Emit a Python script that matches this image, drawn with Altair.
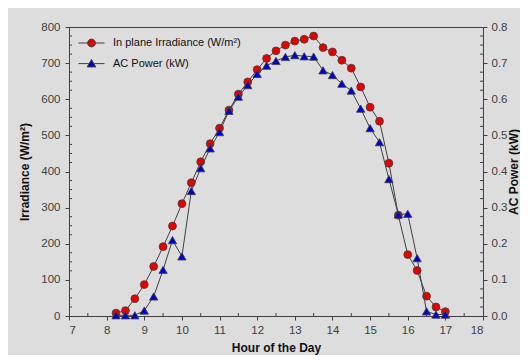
import altair as alt
import pandas as pd

# ---- data ----
hours = [8.25, 8.5, 8.75, 9.0, 9.25, 9.5, 9.75, 10.0, 10.25, 10.5, 10.75, 11.0,
         11.25, 11.5, 11.75, 12.0, 12.25, 12.5, 12.75, 13.0, 13.25, 13.5, 13.75, 14.0,
         14.25, 14.5, 14.75, 15.0, 15.25, 15.5, 15.75, 16.0, 16.25, 16.5, 16.75, 17.0]
irradiance = [8, 15, 48, 87, 137, 192, 249, 311, 369, 427, 477, 520,
              570, 614, 648, 682, 713, 734, 750, 761, 766, 775, 743, 731,
              708, 686, 634, 578, 539, 423, 279, 170, 126, 55, 25, 12]
ac_power = [0.002, 0.002, 0.002, 0.015, 0.054, 0.128, 0.210, 0.165, 0.346, 0.409, 0.464, 0.509,
            0.568, 0.607, 0.639, 0.670, 0.693, 0.706, 0.717, 0.722, 0.719, 0.718, 0.680, 0.667,
            0.643, 0.624, 0.574, 0.520, 0.481, 0.379, 0.281, 0.283, 0.160, 0.013, 0.004, 0.004]
series_names = ["In plane Irradiance (W/m\u00b2)", "AC Power (kW)"]

x_ticks = [7, 8, 9, 10, 11, 12, 13, 14, 15, 16, 17, 18]
x_minor = [7.5, 8.5, 9.5, 10.5, 11.5, 12.5, 13.5, 14.5, 15.5, 16.5, 17.5]
irr_ticks = [0, 100, 200, 300, 400, 500, 600, 700, 800]
irr_minor = [v + d for v in irr_ticks[:-1] for d in (25, 50, 75)]
pw_ticks = [0.0, 0.1, 0.2, 0.3, 0.4, 0.5, 0.6, 0.7, 0.8]
pw_minor = [round(v / 1000, 3) for v in irr_minor]

df = pd.DataFrame({"hour": hours, "irr": irradiance, "pw": ac_power})
df_x_minor = pd.DataFrame({"hour": x_minor})
df_irr_minor = pd.DataFrame({"irr": irr_minor})
df_pw_minor = pd.DataFrame({"pw": pw_minor})

W, H = 414, 289
LINE = "#404040"
RED = "#e60000"
BLUE = "#0000cc"
FONT = "Liberation Sans"

xscale = alt.Scale(domain=[7, 18], nice=False, zero=False)
irr_scale = alt.Scale(domain=[0, 800], nice=False, zero=False)
pw_scale = alt.Scale(domain=[0, 0.8], nice=False, zero=False)

x_axis = alt.Axis(values=x_ticks, title="Hour of the Day", format="d",
                  tickSize=4, labelPadding=4, grid=False,
                  titleX=W / 2, titleY=35, titleBaseline="alphabetic", titleAlign="center")
irr_axis = alt.Axis(values=irr_ticks, title="Irradiance (W/m\u00b2)", format="d",
                    tickSize=4, labelPadding=5, grid=False,
                    titleAngle=270, titleX=-41, titleY=H / 2,
                    titleBaseline="alphabetic", titleAlign="center")
pw_axis = alt.Axis(values=pw_ticks, title="AC Power (kW)", format=".1f", orient="right",
                   tickSize=4, labelPadding=4, grid=False,
                   titleAngle=270, titleX=34, titleY=H / 2,
                   titleBaseline="alphabetic", titleAlign="center")

X = alt.X("hour:Q", scale=xscale, axis=x_axis)
Y_IRR = alt.Y("irr:Q", scale=irr_scale, axis=irr_axis)
Y_PW = alt.Y("pw:Q", scale=pw_scale, axis=pw_axis)

base = alt.Chart(df)

irr_line = base.mark_line(color=LINE, strokeWidth=1).encode(x=X, y=Y_IRR)
irr_pts = base.mark_point(filled=True, shape="circle", size=62, fill=RED,
                          stroke=LINE, strokeWidth=0.8, opacity=1).encode(x=X, y=Y_IRR)
xminor_layer = alt.Chart(df_x_minor).mark_rule(color=LINE, strokeWidth=1).encode(
    x=X, y=alt.value(H - 3), y2=alt.value(H))
irrminor_layer = alt.Chart(df_irr_minor).mark_rule(color=LINE, strokeWidth=1).encode(
    y=Y_IRR, x=alt.value(0), x2=alt.value(3))

pw_line = base.mark_line(color=LINE, strokeWidth=1).encode(x=X, y=Y_PW)
pw_pts = base.mark_point(filled=True, shape="triangle-up", size=70, fill=BLUE,
                         stroke=LINE, strokeWidth=0.8, opacity=1).encode(x=X, y=Y_PW)
pwminor_layer = alt.Chart(df_pw_minor).mark_rule(color=LINE, strokeWidth=1).encode(
    y=Y_PW, x=alt.value(W - 3), x2=alt.value(W))

left = alt.layer(irr_line, irr_pts, xminor_layer, irrminor_layer)
right = alt.layer(pw_line, pw_pts, pwminor_layer)

circ_path = ("M-1,0L-0.3,0M0.3,0L1,0"
             "M-0.3,0A0.3,0.3,0,1,1,0.3,0A0.3,0.3,0,1,1,-0.3,0Z")
tri_path = ("M-1,0L-0.2,0M0.2,0L1,0"
            "M-0.33,0.26L0.33,0.26L0,-0.32Z")

legend_def = alt.Legend(orient="none", legendX=9, legendY=9, title=None,
                        labelFont=FONT, labelFontSize=11, labelColor="#111111",
                        symbolSize=676, symbolStrokeColor=LINE, symbolStrokeWidth=1,
                        clipHeight=14, rowPadding=6.6, labelOffset=8, padding=0)
legend_layer = alt.Chart(pd.DataFrame({"s": series_names})).mark_point(
    filled=True, stroke=LINE, strokeWidth=1, opacity=1).encode(
    color=alt.Color("s:N", scale=alt.Scale(domain=series_names, range=[RED, BLUE]), legend=legend_def),
    shape=alt.Shape("s:N", scale=alt.Scale(domain=series_names, range=[circ_path, tri_path]), legend=legend_def),
).transform_filter("false")

chart = alt.layer(left, right, legend_layer).resolve_scale(y="independent").properties(
    width=W, height=H, autosize="none",
    padding={"left": 61, "top": 19, "right": 37, "bottom": 39},
).configure(background="#dddddd").configure_view(
    stroke=LINE, strokeWidth=1
).configure_axis(
    labelFont=FONT, labelFontSize=11.5, labelColor="#404040",
    titleFont=FONT, titleFontSize=12, titleFontWeight="bold", titleColor="#111111",
    domainColor=LINE, tickColor=LINE, domainWidth=1, tickWidth=1,
)

chart.save("out.html", embed_options={"renderer": "svg", "actions": False})
